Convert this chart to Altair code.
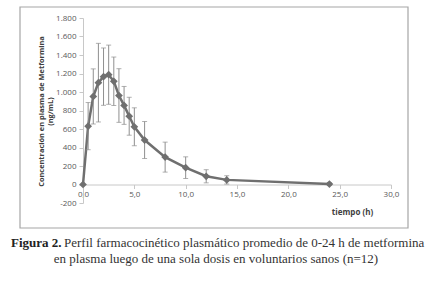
import altair as alt
import pandas as pd

# Data
tiempo = [0, 0.5, 1, 1.5, 2, 2.5, 3, 3.5, 4, 4.5, 5, 6, 8, 10, 12, 14, 24]
media = [0, 631, 952, 1101, 1166, 1187, 1116, 962, 855, 738, 624, 481, 296, 182, 89, 50, 5]
de = [0, 255, 298, 425, 310, 320, 262, 290, 205, 205, 205, 200, 162, 117, 71, 45, 15]

y_ticks = [-200, 0, 200, 400, 600, 800, 1000, 1200, 1400, 1600, 1800]
x_ticks = [0, 5, 10, 15, 20, 25, 30]

y_title = ["Concentración en plasma de Metformina", "(ng/mL)"]
x_title = "tiempo (h)"
cap_bold = "Figura 2."
cap_line1 = "Perfil farmacocinético plasmático promedio de 0-24 h de metformina"
cap_line2 = "en plasma luego de una sola dosis en voluntarios sanos (n=12)"

df = pd.DataFrame({"t": tiempo, "m": media, "sd": de})
df["lo"] = df["m"] - df["sd"]
df["hi"] = df["m"] + df["sd"]

W, H = 308, 185
LEFT, TOP = 83, 18

xs = alt.Scale(domain=[0, 30], nice=False, zero=False)
ys = alt.Scale(domain=[-200, 1800], nice=False)

LINE = "#6f6f6f"
ERR = "#8f8f8f"
AX = "#c8c8c8"
LAB = "#595959"

x_axis = alt.Axis(
    values=x_ticks,
    labelExpr="replace(format(datum.value, '.1f'), '.', ',')",
    offset=-18.5,
    title=x_title,
    titleX=269,
    titleY=28,
    titleAlign="center",
    titleBaseline="middle",
)
y_axis = alt.Axis(
    values=y_ticks,
    labelExpr="replace(replace(format(datum.value, ',d'), ',', '.'), '−', '-')",
    title=y_title,
    titleAngle=-90,
    titleX=-42,
    titleY=93,
    titleAlign="center",
    titleBaseline="middle",
)

base = alt.Chart(df)
X = alt.X("t:Q", scale=xs, axis=x_axis)

def Y(f):
    return alt.Y(f, type="quantitative", scale=ys, axis=y_axis)

line = base.mark_line(color=LINE, strokeWidth=2.5).encode(x=X, y=Y("m"))
err = base.mark_rule(color=ERR, strokeWidth=1).encode(x=X, y=Y("lo"), y2="hi:Q")
cap_lo = base.mark_tick(color=ERR, thickness=1, size=5, orient="horizontal").encode(x=X, y=Y("lo"))
cap_hi = base.mark_tick(color=ERR, thickness=1, size=5, orient="horizontal").encode(x=X, y=Y("hi"))
pts = base.mark_point(shape="diamond", filled=True, size=60, color=LINE, opacity=1).encode(x=X, y=Y("m"))

frame = alt.Chart(alt.Data(values=[{"a": 1}])).mark_rect(
    fill=None, stroke="#a6a6a6", strokeWidth=1.2
).encode(
    x=alt.value(20 - LEFT), x2=alt.value(408 - LEFT),
    y=alt.value(7 - TOP), y2=alt.value(228 - TOP),
)

FS = 13
cap_df = alt.Data(values=[{"b": cap_bold, "l1": cap_line1, "l2": cap_line2}])
cap_b = alt.Chart(cap_df).mark_text(
    font="Liberation Serif", fontSize=FS, fontWeight="bold", align="left",
    baseline="middle", color="#222222"
).encode(text="b:N", x=alt.value(11 - LEFT), y=alt.value(243 - TOP))
cap_1 = alt.Chart(cap_df).mark_text(
    font="Liberation Serif", fontSize=FS, align="left",
    baseline="middle", color="#333333"
).encode(text="l1:N", x=alt.value(64 - LEFT), y=alt.value(243 - TOP))
cap_2 = alt.Chart(cap_df).mark_text(
    font="Liberation Serif", fontSize=FS, align="center",
    baseline="middle", color="#333333"
).encode(text="l2:N", x=alt.value(216 - LEFT), y=alt.value(259 - TOP))

chart = alt.layer(line, err, cap_lo, cap_hi, pts, frame, cap_b, cap_1, cap_2).properties(
    width=W, height=H,
    autosize=alt.AutoSizeParams(type="none"),
    padding={"left": LEFT, "top": TOP, "right": 432 - LEFT - W, "bottom": 285 - TOP - H},
    background="white",
).configure_view(stroke=None).configure_axis(
    grid=False,
    domainColor=AX,
    tickColor=AX,
    tickSize=4,
    labelFlush=False,
    labelOverlap=False,
    labelColor=LAB,
    labelFontSize=8,
    labelFont="Open Sans",
    titleFont="Open Sans",
    titleFontWeight="bold",
    titleColor="#404040",
).configure_axisX(
    labelPadding=2, titleFontSize=8
).configure_axisY(
    labelPadding=3, titleFontSize=7.4, titleLineHeight=9
)

chart.save("out.html", embed_options={"renderer": "svg", "actions": False})
